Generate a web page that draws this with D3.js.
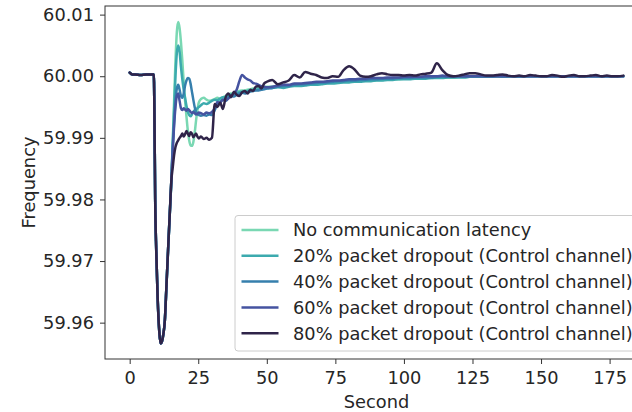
<!DOCTYPE html>
<html><head><meta charset="utf-8">
<script src="https://cdn.jsdelivr.net/npm/d3@7"></script>
<style>
body{margin:0;background:#fff}
svg{display:block}
text{font-family:"DejaVu Sans",sans-serif;fill:#262626}
</style>
</head><body>
<svg id="chart" width="632" height="412"></svg>
<script>
// ---------- DATA ----------
const seriesNames = [
  "No communication latency",
  "20% packet dropout (Control channel)",
  "40% packet dropout (Control channel)",
  "60% packet dropout (Control channel)",
  "80% packet dropout (Control channel)"
];
const seriesColors = ["#7ad8b3", "#3caaae", "#367fad", "#4553a0", "#2f2449"];
const xTicks = [0, 25, 50, 75, 100, 125, 150, 175];
const yTicks = [59.96, 59.97, 59.98, 59.99, 60.00, 60.01];

// common part: steady state and the frequency dip (identical for all cases)
const dipSeconds = [0, 1, 2, 4, 6, 8, 8.8, 9.0, 9.3, 9.7, 10.2, 10.8, 11.3, 11.8, 12.3, 12.8, 13.4, 14.0, 14.6, 15.2];
const dipFrequency = [60.0006, 60.0003, 60.0003, 60.0002, 60.0003, 60.0003, 60.0003, 59.9950, 59.9800, 59.9715,
  59.9640, 59.9585, 59.9566, 59.9570, 59.9582, 59.9602, 59.9659, 59.9718, 59.9775, 59.9831];

// recovery part
const recoverySeconds = [
  15.7, 16.2, 16.7, 17.2, 17.7, 18.2, 18.7, 19.2, 19.7, 20.2, 20.7, 21.2, 21.7, 22.2, 22.7, 23.2, 23.7, 24.2, 24.7, 25.2,
  26, 27, 28, 29, 30, 31, 32, 33, 34, 35, 36, 37, 38, 39, 40, 41, 42, 43, 44, 45, 46, 47, 48, 49, 50,
  52, 54, 56, 58, 60, 62, 64, 66, 68, 70,
  72, 74, 76, 78, 80, 82, 84, 86, 88, 90,
  92, 94, 96, 98, 100, 102, 104, 106, 108, 110,
  112, 114, 116, 118, 120, 122, 124, 126, 128, 130,
  132, 134, 136, 138, 140, 142, 144, 146, 148, 150,
  152, 154, 156, 158, 160, 162, 164, 166, 168, 170,
  172, 174, 176, 178, 180
];
const noLatency = [
  59.9895, 59.9960, 60.0025, 60.0072, 60.0088, 60.0078, 60.0055, 60.0025, 59.9990, 59.9960,
  59.9935, 59.9912, 59.9896, 59.9888, 59.9887, 59.9893, 59.9908, 59.9928, 59.9945, 59.9957,
  59.9963, 59.9965, 59.9962, 59.9960, 59.9961, 59.9963, 59.9965, 59.9962, 59.9966, 59.9968,
  59.9970, 59.9972, 59.9973, 59.9975, 59.9976, 59.9977, 59.9977, 59.9978, 59.9979, 59.9980,
  59.9980, 59.9981, 59.9982, 59.9982, 59.9983,
  59.9983, 59.9983, 59.9984, 59.9985, 59.9985, 59.9986, 59.9987, 59.9987, 59.9988, 59.9988,
  59.9989, 59.9990, 59.9990, 59.9991, 59.9991, 59.9992, 59.9992, 59.9993, 59.9993, 59.9994,
  59.9994, 59.9995, 59.9995, 59.9995, 59.9996, 59.9996, 59.9996, 59.9997, 59.9997, 59.9997,
  59.9998, 59.9998, 59.9998, 59.9998, 59.9999, 59.9999, 59.9999, 59.9999, 59.9999, 59.9999,
  60.0000, 60.0000, 60.0000, 59.9999, 60.0000, 60.0000, 60.0000, 60.0000, 60.0000, 60.0000,
  60.0000, 60.0000, 60.0000, 60.0000, 60.0000, 60.0000, 60.0000, 60.0000, 60.0000, 60.0000,
  60.0000, 60.0000, 60.0000, 60.0000, 60.0000
];
const dropout20 = [
  59.9890, 59.9945, 60.0000, 60.0038, 60.0050, 60.0040, 60.0015, 59.9995, 59.9978, 59.9965,
  59.9952, 59.9942, 59.9937, 59.9935, 59.9938, 59.9942, 59.9945, 59.9946, 59.9948, 59.9950,
  59.9953, 59.9956, 59.9955, 59.9957, 59.9960, 59.9962, 59.9961, 59.9964, 59.9966, 59.9965,
  59.9968, 59.9970, 59.9971, 59.9973, 59.9974, 59.9975, 59.9974, 59.9976, 59.9977, 59.9978,
  59.9978, 59.9979, 59.9980, 59.9980, 59.9981,
  59.9981, 59.9982, 59.9981, 59.9983, 59.9984, 59.9984, 59.9985, 59.9986, 59.9986, 59.9987,
  59.9988, 59.9988, 59.9989, 59.9990, 59.9990, 59.9991, 59.9991, 59.9992, 59.9992, 59.9993,
  59.9993, 59.9994, 59.9994, 59.9995, 59.9995, 59.9995, 59.9996, 59.9996, 59.9996, 59.9997,
  59.9997, 59.9997, 59.9998, 59.9998, 59.9998, 59.9998, 59.9999, 59.9999, 59.9999, 59.9999,
  59.9999, 60.0000, 59.9999, 60.0000, 60.0000, 59.9999, 60.0000, 60.0000, 60.0000, 60.0000,
  60.0000, 60.0000, 60.0000, 60.0000, 60.0000, 60.0000, 60.0000, 60.0000, 60.0000, 60.0000,
  60.0000, 60.0000, 60.0000, 60.0000, 60.0000
];
const dropout40 = [
  59.9885, 59.9925, 59.9960, 59.9980, 59.9986, 59.9978, 59.9968, 59.9965, 59.9972, 59.9985,
  59.9993, 59.9997, 59.9996, 59.9988, 59.9975, 59.9962, 59.9950, 59.9942, 59.9938, 59.9937,
  59.9936, 59.9937, 59.9936, 59.9938, 59.9937, 59.9945, 59.9955, 59.9958, 59.9962, 59.9960,
  59.9965, 59.9968, 59.9967, 59.9970, 59.9972, 59.9973, 59.9972, 59.9974, 59.9975, 59.9976,
  59.9977, 59.9977, 59.9978, 59.9979, 59.9980,
  59.9981, 59.9983, 59.9984, 59.9984, 59.9986, 59.9987, 59.9987, 59.9988, 59.9989, 59.9990,
  59.9990, 59.9991, 59.9992, 59.9992, 59.9993, 59.9993, 59.9994, 59.9994, 59.9995, 59.9995,
  59.9996, 59.9996, 59.9996, 59.9997, 59.9997, 59.9997, 59.9998, 59.9998, 59.9998, 59.9998,
  59.9999, 59.9999, 59.9999, 59.9999, 60.0000, 59.9999, 60.0000, 60.0000, 60.0000, 60.0000,
  60.0000, 60.0000, 60.0000, 60.0000, 60.0000, 60.0000, 60.0000, 60.0000, 60.0000, 60.0000,
  60.0000, 60.0000, 60.0000, 60.0000, 60.0000, 60.0000, 60.0000, 60.0000, 60.0000, 60.0000,
  60.0000, 60.0000, 60.0000, 60.0000, 60.0000
];
const dropout60 = [
  59.9880, 59.9920, 59.9950, 59.9968, 59.9972, 59.9960, 59.9948, 59.9945, 59.9948, 59.9946,
  59.9944, 59.9947, 59.9945, 59.9942, 59.9940, 59.9942, 59.9940, 59.9938, 59.9939, 59.9941,
  59.9940, 59.9938, 59.9941, 59.9940, 59.9942, 59.9948, 59.9958, 59.9957, 59.9962, 59.9961,
  59.9964, 59.9968, 59.9972, 59.9978, 59.9992, 60.0002, 59.9998, 59.9995, 59.9993, 59.9989,
  59.9988, 59.9986, 59.9984, 59.9983, 59.9982,
  59.9983, 59.9985, 59.9986, 59.9986, 59.9988, 59.9988, 59.9989, 59.9990, 59.9991, 59.9991,
  59.9992, 59.9993, 59.9993, 59.9994, 59.9995, 59.9995, 59.9996, 59.9996, 59.9997, 59.9997,
  59.9997, 59.9998, 59.9998, 59.9998, 59.9999, 59.9999, 59.9999, 59.9999, 60.0000, 60.0000,
  60.0000, 60.0001, 60.0000, 60.0000, 60.0000, 60.0000, 60.0000, 60.0000, 60.0000, 60.0000,
  60.0000, 60.0000, 60.0000, 60.0000, 60.0000, 60.0000, 60.0000, 60.0000, 60.0000, 60.0000,
  60.0000, 60.0000, 60.0000, 60.0000, 60.0000, 60.0000, 60.0000, 60.0000, 60.0000, 60.0000,
  60.0000, 60.0000, 60.0000, 60.0000, 60.0000
];
const dropout80 = [
  59.9852, 59.9872, 59.9885, 59.9892, 59.9896, 59.9900, 59.9903, 59.9907, 59.9902, 59.9906,
  59.9911, 59.9907, 59.9903, 59.9909, 59.9907, 59.9901, 59.9904, 59.9907, 59.9902, 59.9899,
  59.9902, 59.9898, 59.9900, 59.9897, 59.9900, 59.9955, 59.9950, 59.9957, 59.9947, 59.9966,
  59.9972, 59.9966, 59.9975, 59.9970, 59.9968, 59.9974, 59.9976, 59.9972, 59.9978, 59.9976,
  59.9983, 59.9984, 59.9980, 59.9988, 59.9991,
  59.9994, 59.9987, 59.9990, 59.9993, 60.0002, 59.9998, 60.0007, 60.0004, 60.0002, 59.9998,
  59.9997, 60.0000, 59.9999, 60.0010, 60.0016, 60.0011, 60.0001, 59.9999, 60.0000, 60.0003,
  60.0005, 60.0003, 60.0002, 60.0002, 60.0001, 60.0002, 60.0001, 60.0003, 60.0004, 60.0006,
  60.0021, 60.0010, 60.0002, 60.0000, 60.0001, 60.0003, 60.0005, 60.0005, 60.0003, 60.0001,
  60.0001, 60.0002, 60.0003, 60.0001, 60.0000, 60.0001, 60.0000, 60.0002, 60.0001, 60.0000,
  60.0000, 60.0002, 60.0001, 59.9999, 60.0001, 60.0002, 60.0000, 60.0000, 60.0001, 60.0002,
  60.0000, 60.0001, 60.0000, 60.0000, 60.0001
];
const recoveryValues = [noLatency, dropout20, dropout40, dropout60, dropout80];

// ---------- CHART ----------
const plot = {left: 105, right: 648, top: 6, bottom: 359};
const svg = d3.select("#chart");

const x = d3.scaleLinear().domain([-9, 189]).range([plot.left, plot.right]);
const y = d3.scaleLinear().domain([59.9541, 60.0114]).range([plot.bottom, plot.top]);

const series = seriesNames.map((name, i) => {
  const pts = dipSeconds.map((t, k) => [t, dipFrequency[k]])
    .concat(recoverySeconds.map((t, k) => [t, recoveryValues[i][k]]));
  return {name, color: seriesColors[i], pts};
});

svg.append("clipPath").attr("id", "clip")
  .append("rect").attr("x", plot.left).attr("y", plot.top)
  .attr("width", plot.right - plot.left).attr("height", plot.bottom - plot.top);

const line = d3.line().x(d => x(d[0])).y(d => y(d[1])).curve(d3.curveMonotoneX);

svg.append("g").attr("clip-path", "url(#clip)")
  .selectAll("path").data(series).join("path")
  .attr("d", d => line(d.pts))
  .attr("fill", "none")
  .attr("stroke", d => d.color)
  .attr("stroke-width", 2.5)
  .attr("stroke-linejoin", "round")
  .attr("stroke-linecap", "round");

// axes
const fs = 17.8;
const xAxis = svg.append("g").attr("transform", `translate(0,${plot.bottom})`)
  .call(d3.axisBottom(x).tickValues(xTicks).tickFormat(d3.format("d")).tickSize(5).tickPadding(7));
const yAxis = svg.append("g").attr("transform", `translate(${plot.left},0)`)
  .call(d3.axisLeft(y).tickValues(yTicks).tickFormat(d3.format(".2f")).tickSize(5).tickPadding(6));
[xAxis, yAxis].forEach(g => {
  g.select(".domain").remove();
  g.selectAll(".tick line").attr("stroke", "#333").attr("stroke-width", 1);
  g.selectAll(".tick text").attr("font-size", fs).attr("font-family", "DejaVu Sans").attr("fill", "#262626");
});

// frame
svg.append("rect").attr("x", plot.left).attr("y", plot.top)
  .attr("width", plot.right - plot.left).attr("height", plot.bottom - plot.top)
  .attr("fill", "none").attr("stroke", "#333").attr("stroke-width", 1);

// axis labels
svg.append("text").attr("x", (plot.left + plot.right) / 2).attr("y", 408)
  .attr("text-anchor", "middle").attr("font-size", fs).text("Second");
svg.append("text").attr("transform", `translate(35,${(plot.top + plot.bottom) / 2}) rotate(-90)`)
  .attr("text-anchor", "middle").attr("font-size", fs).text("Frequency");

// legend
const lg = svg.append("g");
lg.append("rect").attr("x", 235).attr("y", 215.5).attr("width", 430).attr("height", 135.5)
  .attr("rx", 3).attr("fill", "#fff").attr("fill-opacity", 0.8)
  .attr("stroke", "#cccccc").attr("stroke-width", 1);
series.forEach((s, i) => {
  const yy = 230 + i * 25.8;
  lg.append("line").attr("x1", 241.5).attr("x2", 278.5).attr("y1", yy).attr("y2", yy)
    .attr("stroke", s.color).attr("stroke-width", 2.5);
  lg.append("text").attr("x", 293).attr("y", yy).attr("dy", "0.36em")
    .attr("font-size", fs).text(s.name);
});
</script>
</body></html>
